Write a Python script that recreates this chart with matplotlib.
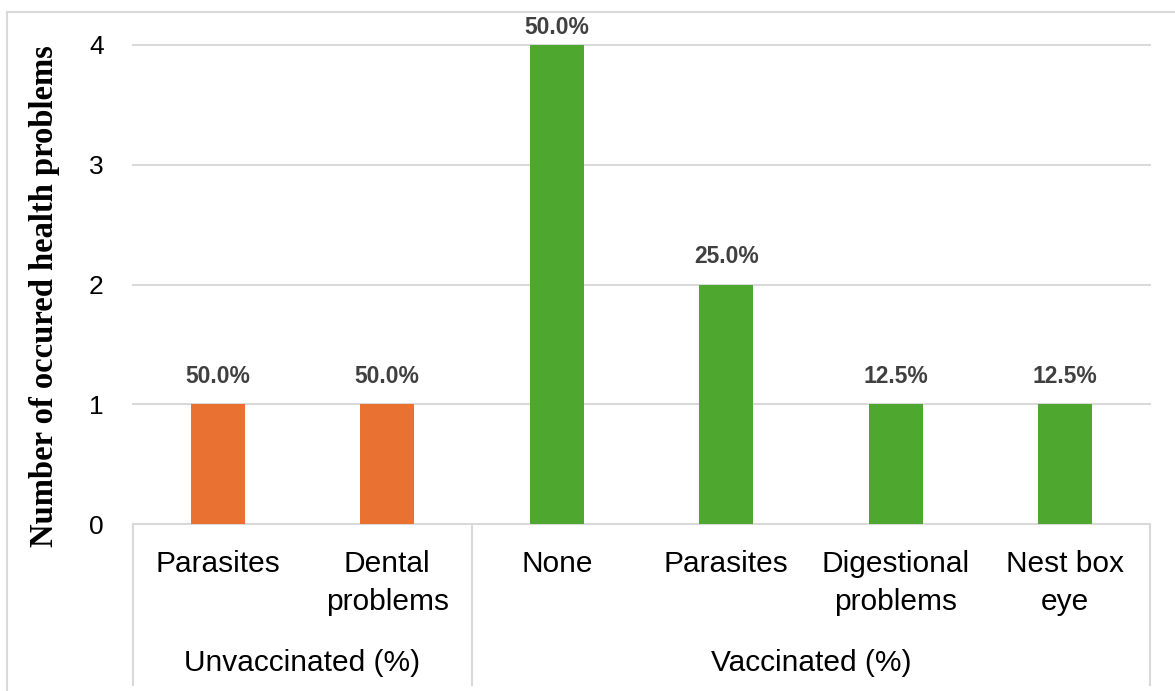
import matplotlib.pyplot as plt
from matplotlib.transforms import blended_transform_factory

# data
categories = ["Parasites", "Dental\nproblems", "None", "Parasites",
              "Digestional\nproblems", "Nest box\neye"]
counts = [1, 1, 4, 2, 1, 1]
pct_labels = ["50.0%", "50.0%", "50.0%", "25.0%", "12.5%", "12.5%"]
groups = ["Unvaccinated (%)", "Vaccinated (%)"]
group_sizes = [2, 4]
group_colors = ["#E97132", "#4EA72E"]

W, H = 1175, 691
fig = plt.figure(figsize=(W / 100, H / 100), dpi=100)
ax = fig.add_axes([133 / W, 1 - 524 / H, (1150 - 133) / W, (524 - 45) / H])

grid_col = "#d9d9d9"
sans = "Liberation Sans"

colors = []
for g, n in enumerate(group_sizes):
    colors += [group_colors[g]] * n

x = list(range(len(categories)))
ax.set_xlim(-0.5, len(categories) - 0.5)
ax.set_ylim(0, 4)
for y in range(0, 5):
    ax.axhline(y, color=grid_col, lw=1.5, zorder=0, clip_on=False)
ax.bar(x, counts, width=0.32, color=colors, zorder=2)

# labels on the tallest bar get pushed down to stay inside the chart
for xi, c, lab in zip(x, counts, pct_labels):
    off = 4 if c == max(counts) else 12
    ax.annotate(lab, (xi, c), xytext=(0, off), textcoords="offset points",
                ha="center", va="bottom", fontsize=16.5, fontweight="bold",
                color="#404040", family=sans, annotation_clip=False)

for s in ax.spines.values():
    s.set_visible(False)
ax.set_xticks([])
ax.set_yticks(range(0, 5))
ax.tick_params(axis="y", length=0, pad=21, labelsize=19)
for t in ax.get_yticklabels():
    t.set_family(sans)

# category labels and group boxes below the axis
tr = blended_transform_factory(ax.transData, ax.transAxes)
for xi, cat in zip(x, categories):
    ax.text(xi, -0.055, cat, transform=tr, ha="center", va="top",
            fontsize=21.5, family=sans, linespacing=1.45)

bounds = [-0.5]
for n in group_sizes:
    bounds.append(bounds[-1] + n)
for b in bounds:
    ax.plot([b, b], [0, -0.337], transform=tr, color=grid_col, lw=1.5,
            clip_on=False)
for g, name in enumerate(groups):
    mid = (bounds[g] + bounds[g + 1]) / 2
    ax.text(mid, -0.29, name, transform=tr, ha="center", va="center",
            fontsize=21.5, family=sans)

fig.text(45 / W, 1 - 296 / H, "Number of occured health problems",
         rotation=90, ha="center", va="center", fontsize=23.5,
         fontweight="bold", family="Liberation Serif")

# outer chart frame (left and top visible)
fig.add_artist(plt.Line2D([7 / W, 7 / W], [0, 1 - 12 / H], color=grid_col,
                          lw=1.5, transform=fig.transFigure))
fig.add_artist(plt.Line2D([7 / W, 1], [1 - 12 / H, 1 - 12 / H], color=grid_col,
                          lw=1.5, transform=fig.transFigure))

fig.savefig("out.png", dpi=100)
